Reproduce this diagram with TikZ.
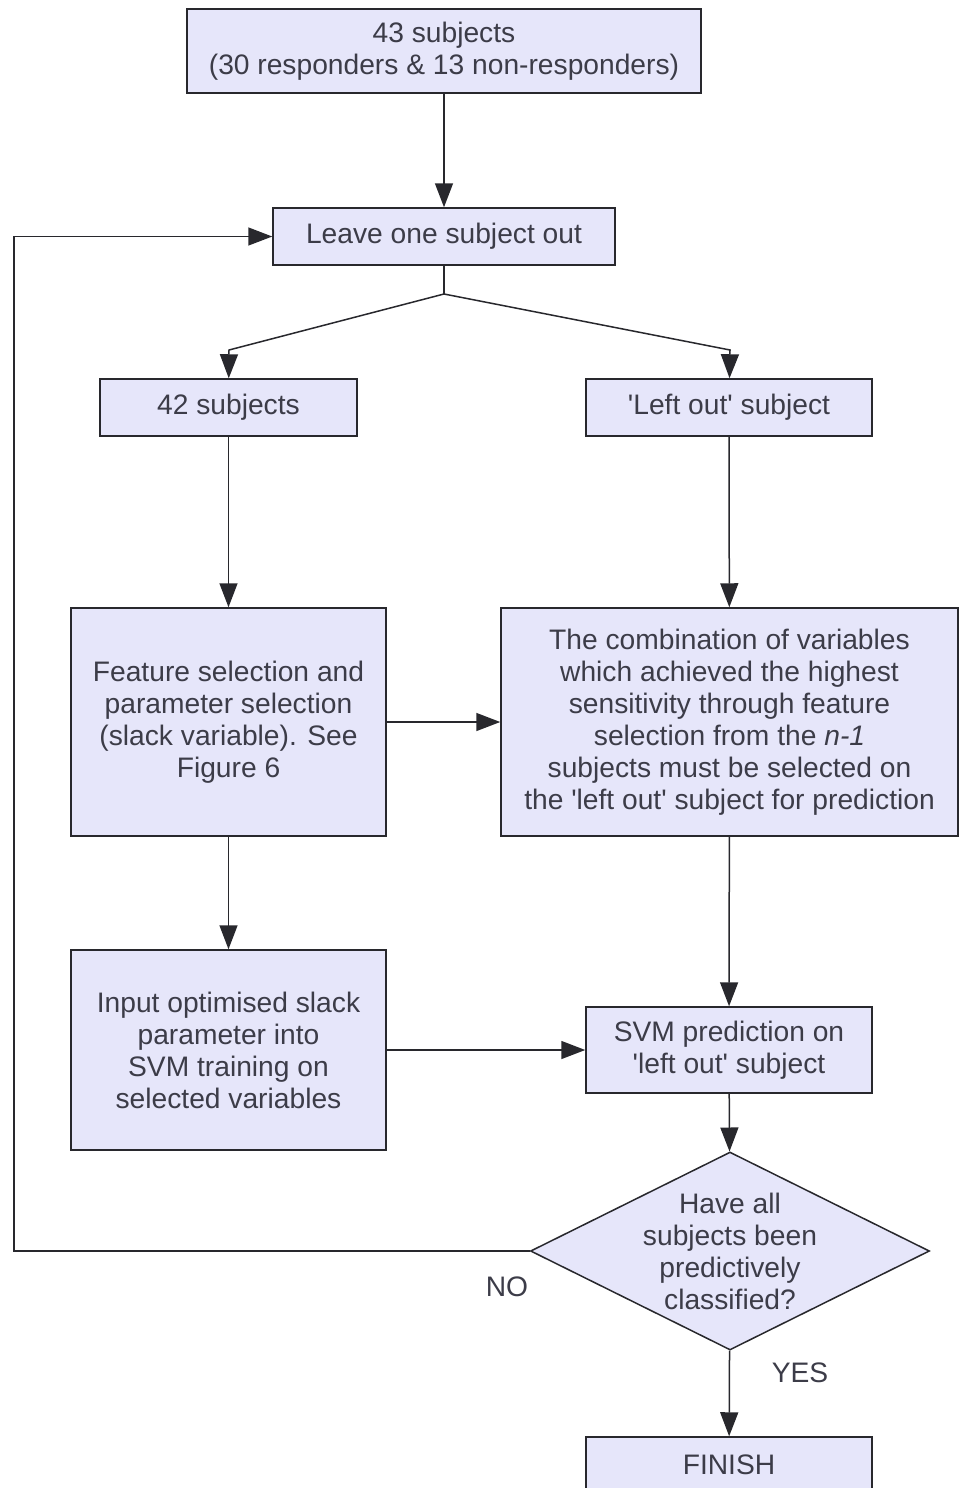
\documentclass[tikz,border=0pt]{standalone}
\usepackage{fontspec}
\setmainfont{Liberation Sans}
\usetikzlibrary{arrows.meta,shapes.geometric}
\definecolor{boxfill}{RGB}{230,230,250}
\definecolor{boxline}{RGB}{40,40,45}
\definecolor{txt}{RGB}{60,60,72}
\newcommand{\q}{\textquotesingle}
\begin{document}
\begin{tikzpicture}[x=0.5pt,y=-0.5pt,
  every node/.style={text=txt,font=\fontsize{14.1}{16}\selectfont},
  box/.style={draw=boxline,fill=boxfill,line width=0.75pt,align=center,inner sep=0pt},
  arr/.style={draw=boxline,line width=0.75pt,-{Triangle[length=12pt,width=9pt]}},
  ln/.style={draw=boxline,line width=0.75pt}]
\useasboundingbox (0,0) rectangle (959,1488);
\node[box,minimum width=257pt,minimum height=42pt] (top) at (444,51) {43 subjects\\(30 responders \& 13 non-responders)};
\node[box,minimum width=171pt,minimum height=28.5pt] (leave) at (444,236.5) {Leave one subject out};
\node[box,minimum width=128.5pt,minimum height=28.5pt] (s42) at (228.5,407.5) {42 subjects};
\node[box,minimum width=143pt,minimum height=28.5pt] (lout) at (729,407.5) {\q Left out\q{} subject};
\node[box,minimum width=157.5pt,minimum height=114pt] (feat) at (228.5,722) {Feature selection and\\parameter selection\\(slack variable). See\\Figure 6};
\node[box,minimum width=228.5pt,minimum height=114pt] (comb) at (729.5,722) {The combination of variables\\which achieved the highest\\sensitivity through feature\\selection from the \textit{n-1}\\subjects must be selected on\\the \q left out\q{} subject for prediction};
\node[box,minimum width=157.5pt,minimum height=100pt] (inp) at (228.5,1050) {Input optimised slack\\parameter into\\SVM training on\\selected variables};
\node[box,minimum width=143pt,minimum height=43pt] (svm) at (729,1050) {SVM prediction on\\\q left out\q{} subject};
\node[draw=boxline,fill=boxfill,line width=0.75pt,diamond,inner sep=0pt,minimum width=199.5pt,minimum height=99pt] (dia) at (730,1251) {};
\node[align=center] (diat) at (dia) {Have all\\subjects been\\predictively\\classified?};
\node[box,minimum width=143pt,minimum height=28pt] (fin) at (729,1465) {FINISH};
\node (no) at (507,1287) {NO};
\node (yes) at (800,1373) {YES};
\coordinate (split) at (444,294);
\coordinate (kl) at (229,350);
\coordinate (kr) at (730,350);
\coordinate (lb) at (14,1251);
\draw[arr] (top) -- (leave);
\draw[ln] (leave) -- (split);
\draw[arr] (split) -- (kl) -- (s42);
\draw[arr] (split) -- (kr) -- (lout);
\draw[arr] (s42) -- (feat);
\draw[arr] (lout) -- (comb);
\draw[arr] (feat) -- (comb);
\draw[arr] (feat) -- (inp);
\draw[arr] (comb) -- (svm);
\draw[arr] (inp) -- (svm);
\draw[arr] (svm) -- (dia);
\draw[arr] (dia) -- (fin);
\draw[arr] (dia.west) -- (lb) |- (leave.west);
\end{tikzpicture}
\end{document}
